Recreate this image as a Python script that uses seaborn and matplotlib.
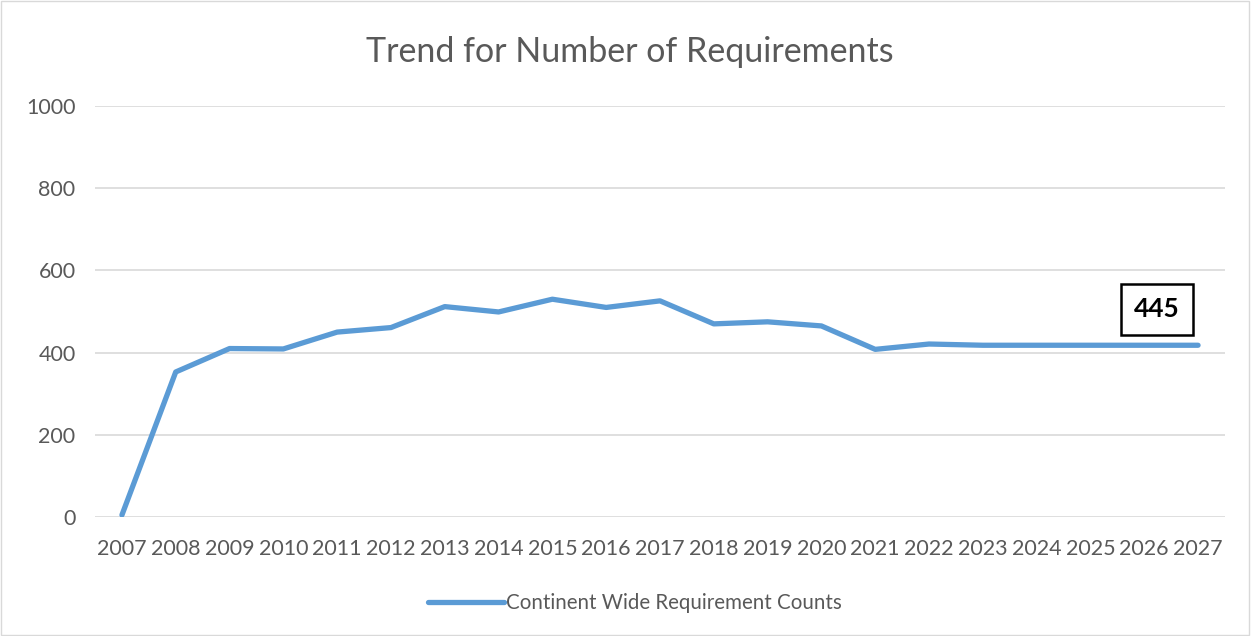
import matplotlib.pyplot as plt
import seaborn as sns
import pandas as pd
from matplotlib.patches import Rectangle

years = [str(y) for y in range(2007, 2028)]
counts = [5, 353, 410, 409, 450, 461, 512, 499, 530, 510, 526,
          470, 475, 465, 408, 421, 418, 418, 418, 418, 418]
y_ticks = [0, 200, 400, 600, 800, 1000]
series_name = "Continent Wide Requirement Counts"
callout = "445"

df = pd.DataFrame({"year": years, "count": counts})

sns.set_style("white")
plt.rcParams['font.family'] = ['Lato', 'DejaVu Sans']
grey = "#595959"

fig = plt.figure(figsize=(12.52, 6.36), dpi=100)
ax = fig.add_axes([0.0759, 0.187, 0.9025, 0.6463])

sns.lineplot(data=df, x="year", y="count", ax=ax, sort=False,
             color="#5B9BD5", linewidth=3.8, label=series_name,
             solid_capstyle="round", solid_joinstyle="round")

ax.set_ylim(0, 1000)
ax.set_xlim(-0.5, len(years) - 0.5)
ax.set_yticks(y_ticks)
ax.grid(axis="y", color="#D9D9D9", linewidth=1.2)
ax.set_axisbelow(True)
for s in ax.spines.values():
    s.set_visible(False)
ax.tick_params(axis="both", length=0, labelsize=15.5, colors=grey)
ax.tick_params(axis="x", pad=16)
ax.tick_params(axis="y", pad=14)
ax.set_xlabel("")
ax.set_ylabel("")

fig.text(0.503, 0.918, "Trend for Number of Requirements", ha="center",
         va="center", fontsize=24.5, color=grey)

leg = ax.legend(loc="center", bbox_to_anchor=(0.478, -0.21), frameon=False,
                fontsize=14.8, handlelength=3.7, handletextpad=0.1)
for t in leg.get_texts():
    t.set_color(grey)

ax.text(19.24, 505, callout, ha="center", va="center",
        fontsize=19, fontweight="bold", color="black",
        bbox=dict(boxstyle="square,pad=0.5", fc="white", ec="black", lw=1.8))

fig.patches.append(Rectangle((0.001, 0.001), 0.997, 0.997, transform=fig.transFigure,
                             fill=False, ec="#D9D9D9", lw=1))

fig.savefig("out.png", dpi=100)
